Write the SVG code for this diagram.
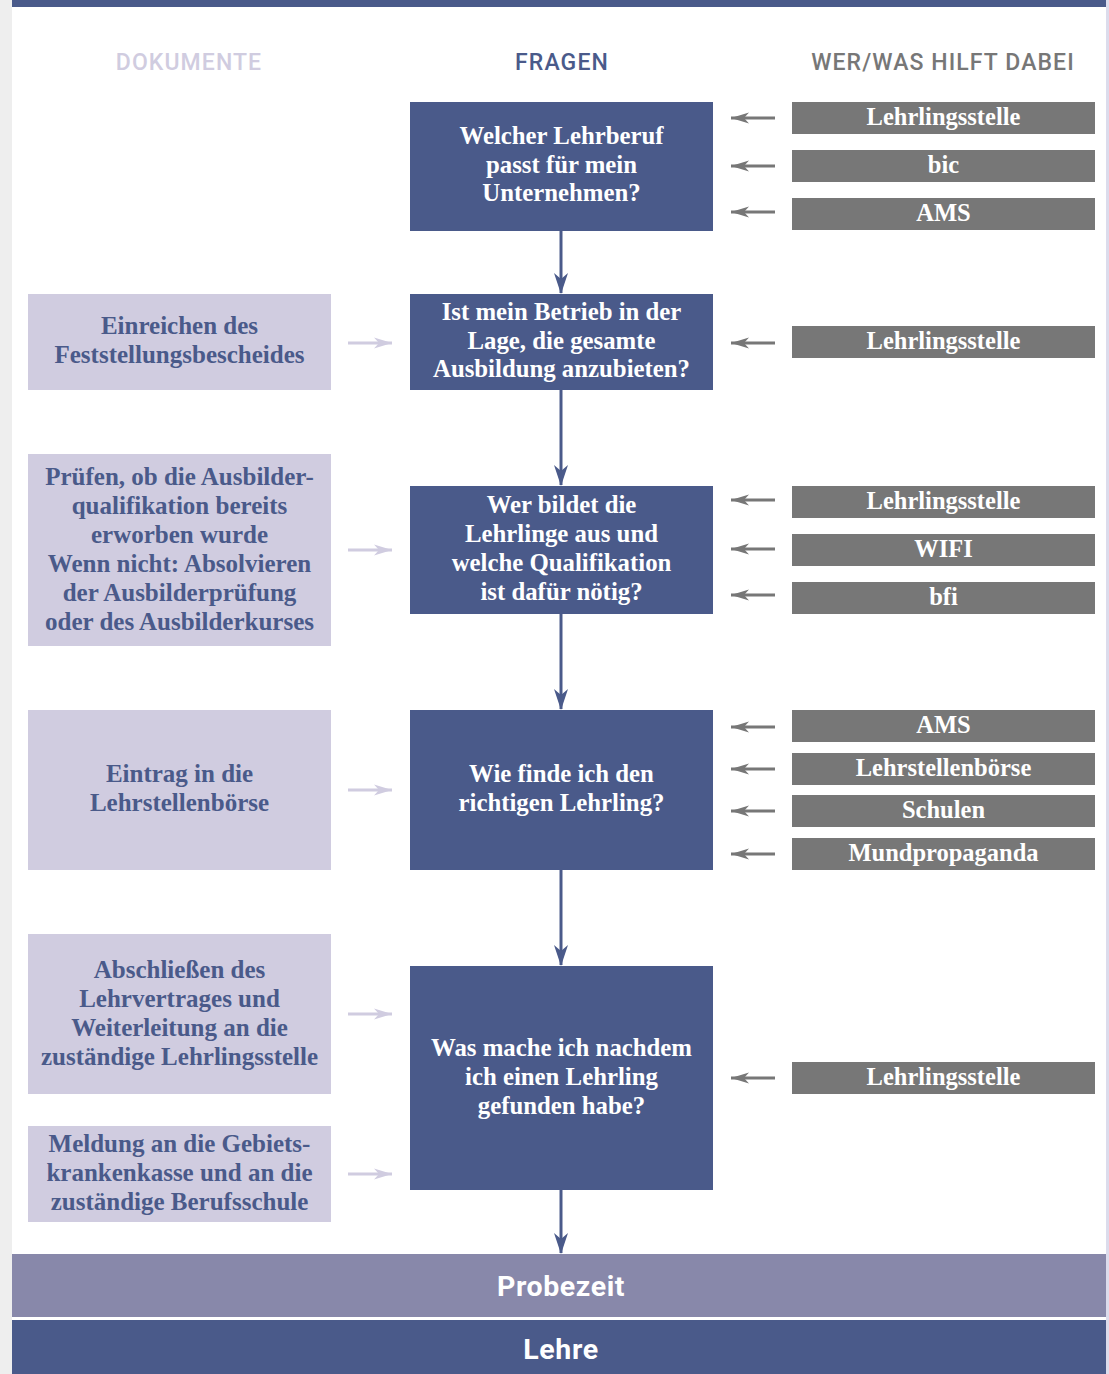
<svg xmlns="http://www.w3.org/2000/svg" width="1109" height="1374" viewBox="0 0 1109 1374">
<defs>
<style>
.q{fill:#4a5a8a}
.d{fill:#d0cce0}
.h{fill:#777777}
.qt{font-family:"Liberation Serif",serif;font-weight:bold;font-size:24.8px;fill:#ffffff;text-anchor:middle}
.dt{font-family:"Liberation Serif",serif;font-weight:bold;font-size:25px;fill:#4a5a8a;text-anchor:middle}
.ht{font-family:"Liberation Serif",serif;font-weight:bold;font-size:24.5px;fill:#ffffff;text-anchor:middle}
.hd{font-family:Roboto,"DejaVu Sans",sans-serif;font-weight:500;font-size:23px;letter-spacing:1.1px;text-anchor:middle}
.bar{font-family:Roboto,"DejaVu Sans",sans-serif;font-weight:bold;font-size:28.5px;fill:#ffffff;text-anchor:middle;letter-spacing:0.6px}
.cv{stroke:#4a5a8a;stroke-width:3;fill:none}
.cg{stroke:#777777;stroke-width:3;fill:none}
.cl{stroke:#d0cce0;stroke-width:3;fill:none}
</style>
<marker id="mv" markerUnits="userSpaceOnUse" markerWidth="22" markerHeight="16" refX="21" refY="8" orient="auto" viewBox="0 0 22 16">
<path d="M22,8 L1,1 L7,8 L1,15 Z" fill="#4a5a8a"/>
</marker>
<marker id="mg" markerUnits="userSpaceOnUse" markerWidth="18" markerHeight="12" refX="0" refY="6" orient="0" viewBox="0 0 18 12">
<path d="M0,6 L18,0.5 L13,6 L18,11.5 Z" fill="#777777"/>
</marker>
<marker id="ml" markerUnits="userSpaceOnUse" markerWidth="18" markerHeight="12" refX="18" refY="6" orient="0" viewBox="0 0 18 12">
<path d="M18,6 L0,0.5 L5,6 L0,11.5 Z" fill="#d0cce0"/>
</marker>
</defs>
<rect x="0" y="0" width="1109" height="1374" fill="#ffffff"/>
<rect x="0" y="0" width="12" height="1374" fill="#eeeeee"/>
<rect x="1106" y="0" width="3" height="1374" fill="#dcdcec"/>
<rect x="12" y="0" width="1094" height="7" class="q"/>

<g id="headers">
<text x="189" y="70" class="hd" fill="#d0cce0">DOKUMENTE</text>
<text x="562" y="70" class="hd" fill="#4a5a8a">FRAGEN</text>
<text x="943" y="70" class="hd" fill="#777777">WER/WAS HILFT DABEI</text>
</g>

<g id="connectors">
<line x1="561" y1="231" x2="561" y2="293" class="cv" marker-end="url(#mv)"/>
<line x1="561" y1="390" x2="561" y2="485" class="cv" marker-end="url(#mv)"/>
<line x1="561" y1="614" x2="561" y2="709" class="cv" marker-end="url(#mv)"/>
<line x1="561" y1="870" x2="561" y2="965" class="cv" marker-end="url(#mv)"/>
<line x1="561" y1="1190" x2="561" y2="1253" class="cv" marker-end="url(#mv)"/>

<line x1="775" y1="118" x2="731" y2="118" class="cg" marker-end="url(#mg)"/>
<line x1="775" y1="166" x2="731" y2="166" class="cg" marker-end="url(#mg)"/>
<line x1="775" y1="212" x2="731" y2="212" class="cg" marker-end="url(#mg)"/>
<line x1="775" y1="343" x2="731" y2="343" class="cg" marker-end="url(#mg)"/>
<line x1="775" y1="500" x2="731" y2="500" class="cg" marker-end="url(#mg)"/>
<line x1="775" y1="549" x2="731" y2="549" class="cg" marker-end="url(#mg)"/>
<line x1="775" y1="595" x2="731" y2="595" class="cg" marker-end="url(#mg)"/>
<line x1="775" y1="727" x2="731" y2="727" class="cg" marker-end="url(#mg)"/>
<line x1="775" y1="769" x2="731" y2="769" class="cg" marker-end="url(#mg)"/>
<line x1="775" y1="811" x2="731" y2="811" class="cg" marker-end="url(#mg)"/>
<line x1="775" y1="854" x2="731" y2="854" class="cg" marker-end="url(#mg)"/>
<line x1="775" y1="1078" x2="731" y2="1078" class="cg" marker-end="url(#mg)"/>

<line x1="348" y1="343" x2="392" y2="343" class="cl" marker-end="url(#ml)"/>
<line x1="348" y1="550" x2="392" y2="550" class="cl" marker-end="url(#ml)"/>
<line x1="348" y1="790" x2="392" y2="790" class="cl" marker-end="url(#ml)"/>
<line x1="348" y1="1014" x2="392" y2="1014" class="cl" marker-end="url(#ml)"/>
<line x1="348" y1="1174" x2="392" y2="1174" class="cl" marker-end="url(#ml)"/>
</g>

<g id="q1"><rect x="410" y="102" width="303" height="129" class="q"/>
<text class="qt"><tspan x="561.5" y="144">Welcher Lehrberuf</tspan><tspan x="561.5" y="173">passt für mein</tspan><tspan x="561.5" y="201">Unternehmen?</tspan></text></g>
<g id="q2"><rect x="410" y="294" width="303" height="96" class="q"/>
<text class="qt"><tspan x="561.5" y="320">Ist mein Betrieb in der</tspan><tspan x="561.5" y="349">Lage, die gesamte</tspan><tspan x="561.5" y="377">Ausbildung anzubieten?</tspan></text></g>
<g id="q3"><rect x="410" y="486" width="303" height="128" class="q"/>
<text class="qt"><tspan x="561.5" y="513">Wer bildet die</tspan><tspan x="561.5" y="542">Lehrlinge aus und</tspan><tspan x="561.5" y="571">welche Qualifikation</tspan><tspan x="561.5" y="600">ist dafür nötig?</tspan></text></g>
<g id="q4"><rect x="410" y="710" width="303" height="160" class="q"/>
<text class="qt"><tspan x="561.5" y="782">Wie finde ich den</tspan><tspan x="561.5" y="811">richtigen Lehrling?</tspan></text></g>
<g id="q5"><rect x="410" y="966" width="303" height="224" class="q"/>
<text class="qt"><tspan x="561.5" y="1056">Was mache ich nachdem</tspan><tspan x="561.5" y="1085">ich einen Lehrling</tspan><tspan x="561.5" y="1114">gefunden habe?</tspan></text></g>

<g id="d1"><rect x="28" y="294" width="303" height="96" class="d"/>
<text class="dt"><tspan x="179.5" y="334">Einreichen des</tspan><tspan x="179.5" y="363">Feststellungsbescheides</tspan></text></g>
<g id="d2"><rect x="28" y="454" width="303" height="192" class="d"/>
<text class="dt"><tspan x="179.5" y="485">Prüfen, ob die Ausbilder-</tspan><tspan x="179.5" y="514">qualifikation bereits</tspan><tspan x="179.5" y="543">erworben wurde</tspan><tspan x="179.5" y="572">Wenn nicht: Absolvieren</tspan><tspan x="179.5" y="601">der Ausbilderprüfung</tspan><tspan x="179.5" y="630">oder des Ausbilderkurses</tspan></text></g>
<g id="d3"><rect x="28" y="710" width="303" height="160" class="d"/>
<text class="dt"><tspan x="179.5" y="782">Eintrag in die</tspan><tspan x="179.5" y="811">Lehrstellenbörse</tspan></text></g>
<g id="d4"><rect x="28" y="934" width="303" height="160" class="d"/>
<text class="dt"><tspan x="179.5" y="978">Abschließen des</tspan><tspan x="179.5" y="1007">Lehrvertrages und</tspan><tspan x="179.5" y="1036">Weiterleitung an die</tspan><tspan x="179.5" y="1065">zuständige Lehrlingsstelle</tspan></text></g>
<g id="d5"><rect x="28" y="1126" width="303" height="96" class="d"/>
<text class="dt"><tspan x="179.5" y="1152">Meldung an die Gebiets-</tspan><tspan x="179.5" y="1181">krankenkasse und an die</tspan><tspan x="179.5" y="1210">zuständige Berufsschule</tspan></text></g>

<g id="h1"><rect x="792" y="102" width="303" height="32" class="h"/><text x="943.5" y="125" class="ht">Lehrlingsstelle</text></g>
<g id="h2"><rect x="792" y="150" width="303" height="32" class="h"/><text x="943.5" y="173" class="ht">bic</text></g>
<g id="h3"><rect x="792" y="198" width="303" height="32" class="h"/><text x="943.5" y="221" class="ht">AMS</text></g>
<g id="h4"><rect x="792" y="326" width="303" height="32" class="h"/><text x="943.5" y="349" class="ht">Lehrlingsstelle</text></g>
<g id="h5"><rect x="792" y="486" width="303" height="32" class="h"/><text x="943.5" y="509" class="ht">Lehrlingsstelle</text></g>
<g id="h6"><rect x="792" y="534" width="303" height="32" class="h"/><text x="943.5" y="557" class="ht">WIFI</text></g>
<g id="h7"><rect x="792" y="582" width="303" height="32" class="h"/><text x="943.5" y="605" class="ht">bfi</text></g>
<g id="h8"><rect x="792" y="710" width="303" height="32" class="h"/><text x="943.5" y="733" class="ht">AMS</text></g>
<g id="h9"><rect x="792" y="753" width="303" height="32" class="h"/><text x="943.5" y="776" class="ht">Lehrstellenbörse</text></g>
<g id="h10"><rect x="792" y="795" width="303" height="32" class="h"/><text x="943.5" y="818" class="ht">Schulen</text></g>
<g id="h11"><rect x="792" y="838" width="303" height="32" class="h"/><text x="943.5" y="861" class="ht">Mundpropaganda</text></g>
<g id="h12"><rect x="792" y="1062" width="303" height="32" class="h"/><text x="943.5" y="1085" class="ht">Lehrlingsstelle</text></g>

<g id="probezeit"><rect x="12" y="1254" width="1094" height="63" fill="#8888aa"/><text x="561" y="1296" class="bar">Probezeit</text></g>
<rect x="12" y="1317" width="1094" height="3" fill="#ffffff"/>
<g id="lehre"><rect x="12" y="1320" width="1094" height="54" class="q"/><text x="561" y="1359" class="bar">Lehre</text></g>
</svg>
